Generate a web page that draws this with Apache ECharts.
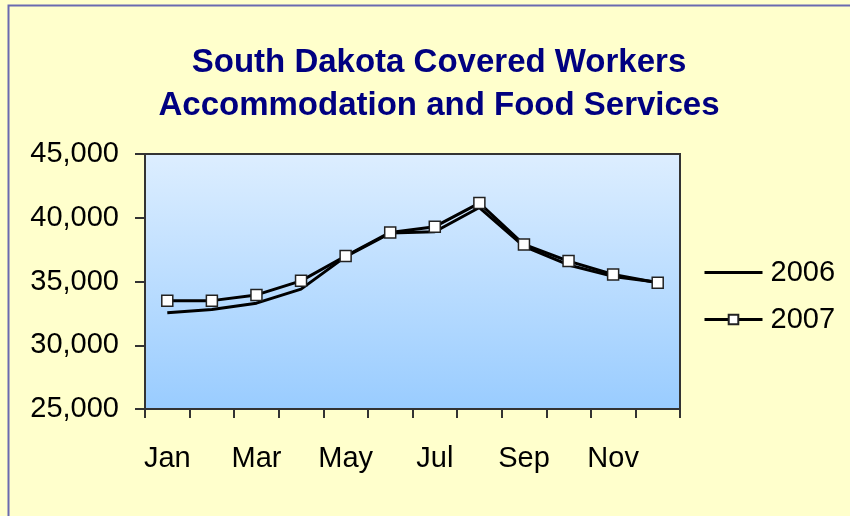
<!DOCTYPE html>
<html>
<head>
<meta charset="utf-8">
<script src="https://cdn.jsdelivr.net/npm/echarts@6/dist/echarts.min.js"></script>
<style>
  html, body { margin: 0; padding: 0; background: #ffffcc; }
  #chart { width: 850px; height: 516px; }
</style>
</head>
<body>
<div id="chart"></div>
<script>
// months on the x axis
var months = ["Jan", "Feb", "Mar", "Apr", "May", "Jun", "Jul", "Aug", "Sep", "Oct", "Nov", "Dec"];
// covered workers
var workers2006 = [32550, 32800, 33300, 34400, 36950, 38800, 38900, 40800, 37750, 36300, 35400, 34950];
var workers2007 = [33500, 33500, 33950, 35050, 37000, 38850, 39300, 41150, 37900, 36600, 35550, 34900];
var yTicks = [25000, 30000, 35000, 40000, 45000];

var font = "Liberation Sans, Arial, sans-serif";
var chart = echarts.init(document.getElementById("chart"));

var option = {
  backgroundColor: "#ffffcc",
  animation: false,
  title: {
    text: "South Dakota Covered Workers\nAccommodation and Food Services",
    left: 434,
    textAlign: "center",
    top: 36,
    textStyle: {
      color: "#000080",
      fontFamily: font,
      fontWeight: "bold",
      fontSize: 33,
      lineHeight: 43
    }
  },
  legend: {
    orient: "vertical",
    left: 698,
    top: 253,
    itemGap: 18,
    itemWidth: 58,
    itemHeight: 12,
    lineStyle: { width: 3 },
    textStyle: { fontFamily: font, fontSize: 29, color: "#000", padding: [0, 0, 0, 3] },
    data: [
      { name: "2006", icon: "path://M0,5 L60,5 L60,8 L0,8 Z" },
      { name: "2007" }
    ]
  },
  grid: {
    left: 145,
    right: 170,
    top: 154,
    bottom: 107,
    show: true,
    borderColor: "#333",
    borderWidth: 2,
    backgroundColor: new echarts.graphic.LinearGradient(0, 0, 0, 1, [
      { offset: 0, color: "#ddeeff" },
      { offset: 1, color: "#99ccff" }
    ])
  },
  xAxis: {
    type: "category",
    data: months,
    boundaryGap: true,
    axisLine: { lineStyle: { color: "#333", width: 2 } },
    axisTick: { show: true, length: 9, interval: 0, lineStyle: { color: "#333", width: 2 } },
    axisLabel: {
      interval: 1,
      margin: 35,
      color: "#000",
      fontFamily: font,
      fontSize: 29
    },
    splitLine: { show: false }
  },
  yAxis: {
    type: "value",
    min: yTicks[0],
    max: yTicks[yTicks.length - 1],
    interval: 5000,
    axisLine: { show: true, lineStyle: { color: "#333", width: 2 } },
    axisTick: { show: true, length: 10, lineStyle: { color: "#333", width: 2 } },
    axisLabel: {
      color: "#000",
      fontFamily: font,
      fontSize: 29,
      margin: 26,
      formatter: function (v) { return v.toLocaleString("en-US"); }
    },
    splitLine: { show: false }
  },
  series: [
    {
      name: "2006",
      type: "line",
      data: workers2006,
      showSymbol: false,
      symbol: "none",
      lineStyle: { color: "#000", width: 3 },
      itemStyle: { color: "#000" }
    },
    {
      name: "2007",
      type: "line",
      data: workers2007,
      symbol: "rect",
      symbolSize: 11,
      lineStyle: { color: "#000", width: 3 },
      itemStyle: { color: "#fff", borderColor: "#222", borderWidth: 1.5 }
    }
  ],
  graphic: [
    {
      type: "rect",
      shape: { x: 8.5, y: 5.5, width: 900, height: 600 },
      style: { fill: null, stroke: "#6a6ab0", lineWidth: 2 },
      silent: true
    }
  ]
};

chart.setOption(option);
</script>
</body>
</html>
